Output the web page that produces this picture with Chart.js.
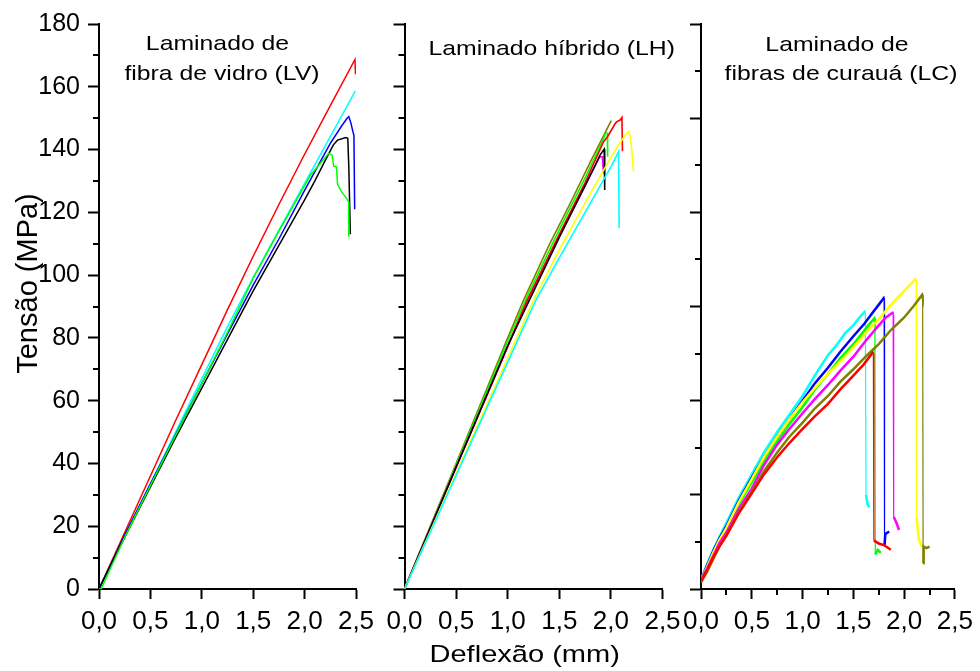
<!DOCTYPE html>
<html><head><meta charset="utf-8">
<script src="https://cdn.jsdelivr.net/npm/chart.js@4.4.1/dist/chart.umd.min.js"></script>
<style>
html,body{margin:0;padding:0;background:#fff;}
#wrap{position:relative;width:980px;height:671px;overflow:hidden;background:#fff}
canvas{position:absolute;left:0;top:0}
</style></head><body>
<div id="wrap">
<canvas id="c1" width="980" height="671"></canvas>
<canvas id="c2" width="980" height="671"></canvas>
<canvas id="c3" width="980" height="671"></canvas>
</div>
<script>
// ---------- tick labels / ranges ----------
const xTickValues = [0, 0.5, 1.0, 1.5, 2.0, 2.5];
const yTickValues = [0, 20, 40, 60, 80, 100, 120, 140, 160, 180];
const panelTitles = [["Laminado de", "fibra de vidro (LV)"], ["Laminado híbrido (LH)"], ["Laminado de", "fibras de curauá (LC)"]];
const xAxisTitle = "Deflexão (mm)";
const yAxisTitle = "Tensão (MPa)";

// ---------- Panel 1: Laminado de fibra de vidro (LV) ----------
const LV_red   = [[0,0],[0.25,18],[0.5,36],[0.75,54],[1.0,71.5],[1.25,89],[1.5,106],[1.75,122.5],[2.0,138.5],[2.25,154],[2.49,168.7],[2.495,164]];
const LV_cyan  = [[0,0],[0.25,16.5],[0.5,33.5],[0.75,50.3],[1.0,67],[1.25,83.6],[1.5,99.3],[1.75,114.3],[2.0,129.2],[2.25,144.1],[2.494,158.7]];
const LV_blue  = [[0,0],[0.25,17.2],[0.5,33.5],[0.75,49.5],[1.0,65.5],[1.25,81.3],[1.5,96.8],[1.75,111.5],[2.0,127],[2.25,142],[2.36,147.5],[2.41,149.8],[2.43,150.5],[2.45,148.5],[2.47,145.7],[2.48,144.5],[2.487,121]];
const LV_black = [[0,0],[0.25,16.5],[0.5,32.5],[0.75,48.5],[1.0,64],[1.25,79.5],[1.5,95],[1.75,109.5],[2.0,124],[2.1,130],[2.2,136.5],[2.28,141.5],[2.32,143],[2.4,143.8],[2.42,143.6],[2.43,134.5],[2.445,113]];
const LV_green = [[0,0],[0.02,0],[0.25,16.5],[0.5,33],[0.75,49.3],[1.0,65.5],[1.25,81.8],[1.5,99],[1.75,114],[2.0,128.5],[2.06,132],[2.15,135.5],[2.234,138.8],[2.267,138.3],[2.283,134.7],[2.31,134.5],[2.32,129],[2.36,126.5],[2.396,125],[2.428,123.4],[2.43,112.2]];

// ---------- Panel 2: Laminado híbrido (LH) ----------
const LH_olive   = [[0,0],[0.5,40],[1.0,80],[1.153,92],[1.4,109.5],[1.6,122.5],[1.8,136],[2.003,149.2]];
const LH_green   = [[0,0],[0.5,39.5],[1.0,79],[1.2,94],[1.5,114.5],[1.75,131],[1.93,143.5],[1.946,145.2],[1.966,145.2],[1.968,137.7]];
const LH_black   = [[0,0],[0.5,38.8],[1.0,77.5],[1.5,112],[1.75,128.5],[1.848,135],[1.896,138.3],[1.935,140.1],[1.94,127.1]];
const LH_magenta = [[0,0],[0.5,38.8],[1.0,77.2],[1.186,91.5],[1.5,112.5],[1.75,128.5],[1.89,137.7],[1.918,137.7],[1.93,132.4]];
const LH_red     = [[0,0],[0.5,38.8],[1.0,77.3],[1.186,91.8],[1.5,113],[1.75,129.5],[1.928,142.4],[1.967,144.1],[2.042,148.3],[2.058,148.9],[2.09,149.4],[2.107,150.2],[2.112,139.5]];
const LH_yellow  = [[0,0],[0.5,36.8],[1.0,73.6],[1.25,92],[1.5,108],[1.75,123],[2.0,137.5],[2.074,141.5],[2.15,145],[2.171,145.7],[2.185,144.5],[2.204,139.3],[2.219,133]];
const LH_cyan    = [[0,0],[0.5,36.2],[1.0,72.3],[1.273,92],[1.5,105.5],[1.75,120],[2.0,134.5],[2.074,139.3],[2.08,115]];

// ---------- Panel 3: Laminado de fibras de curauá (LC) ----------
const LC_cyan    = [[0,3],[0.06,8],[0.12,12.4],[0.18,16.5],[0.25,21],[0.37,29],[0.5,36.5],[0.62,43.5],[0.75,50],[0.87,55.5],[1.0,61.5],[1.12,68],[1.25,74.5],[1.33,77.5],[1.42,81.5],[1.5,84],[1.56,86.5],[1.61,88.3],[1.618,88],[1.625,30],[1.64,27],[1.659,26]];
const LC_blue    = [[0,3],[0.06,7.5],[0.12,12],[0.18,16],[0.25,20],[0.37,28],[0.5,35.5],[0.62,42],[0.75,48.5],[0.87,54],[1.0,60],[1.12,65.5],[1.25,70.5],[1.37,75.5],[1.5,80.5],[1.61,84.6],[1.7,88.5],[1.76,91],[1.798,92.6],[1.803,92],[1.807,14],[1.815,17.5],[1.853,18.3]];
const LC_green   = [[0,3],[0.06,7],[0.12,11.5],[0.18,15.5],[0.25,19],[0.37,27],[0.5,34],[0.62,40.5],[0.75,47],[0.87,52.5],[1.0,58],[1.12,63.5],[1.25,68.5],[1.37,73.5],[1.5,78],[1.6,82],[1.66,84.5],[1.707,86.2],[1.712,85.5],[1.716,11],[1.74,12.5],[1.77,11.5]];
const LC_yellow  = [[0,3],[0.06,7],[0.12,11.5],[0.18,15.5],[0.25,19.5],[0.37,27.5],[0.5,35],[0.62,42],[0.75,48.5],[0.87,54],[1.0,59.5],[1.12,64],[1.25,68.5],[1.37,72.5],[1.5,77],[1.62,81.5],[1.75,86],[1.87,90.5],[2.0,95],[2.06,97],[2.112,98.7],[2.118,98.5],[2.122,23],[2.145,15.6],[2.177,13.5]];
const LC_magenta = [[0,3],[0.06,6.5],[0.12,10.5],[0.18,14.5],[0.25,18],[0.37,25.5],[0.5,32],[0.62,39.5],[0.75,46],[0.87,51],[1.0,56],[1.12,60.5],[1.25,65],[1.37,69.5],[1.5,74],[1.62,79],[1.75,84],[1.82,86.5],[1.885,88],[1.892,87.5],[1.897,23],[1.925,21],[1.95,18.8]];
const LC_olive   = [[0,2],[0.06,5.5],[0.12,9.5],[0.18,13.5],[0.25,17],[0.37,24.5],[0.5,31],[0.62,37.5],[0.75,43.5],[0.87,48.5],[1.0,53],[1.12,57.5],[1.25,61.5],[1.37,66],[1.5,70],[1.62,74],[1.75,78],[1.87,82.5],[2.0,86.5],[2.09,90],[2.177,93.7],[2.182,93],[2.187,8.2],[2.192,13.5],[2.22,13],[2.25,13.5]];
const LC_red     = [[0,2.5],[0.06,6],[0.12,10],[0.18,13.5],[0.25,17],[0.37,24],[0.5,30.5],[0.62,36.5],[0.75,42],[0.87,46.5],[1.0,51],[1.12,55],[1.25,59],[1.37,63.5],[1.5,68],[1.6,71.5],[1.69,75.3],[1.697,75],[1.702,15.5],[1.75,14.5],[1.8,14],[1.869,12.5]];

const FONT = "'Liberation Sans', Arial, Helvetica, sans-serif";
const W = 980, H = 671;
const Y_BOX = 70, X_BOX = 50;   // space reserved for tick labels

const toXY = pts => pts.map(p => ({x: p[0], y: p[1]}));
function ds(pts, color, width, thinDrops) {
  const d = {data: toXY(pts), borderColor: color, borderWidth: width, pointRadius: 0, fill: false, tension: 0};
  if (thinDrops) d.segment = {borderWidth: c => (c.p0.parsed.y - c.p1.parsed.y > 20 ? 1.2 : width)};
  return d;
}

const minorTicksPlugin = {
  id: 'minorTicks',
  afterDraw(chart, args, opts) {
    const ctx = chart.ctx;
    ctx.save();
    ctx.strokeStyle = '#000';
    ctx.lineWidth = 2;
    for (const m of (opts.list || [])) {
      const sc = chart.scales[m.axis];
      const n = Math.round((sc.max - sc.min) / m.step);
      for (let i = 0; i <= n; i++) {
        const v = sc.min + i * m.step;
        const r = v / m.major;
        if (Math.abs(r - Math.round(r)) < 1e-6) continue;
        const p = Math.round(sc.getPixelForValue(v));
        ctx.beginPath();
        if (m.axis === 'x') { ctx.moveTo(p, sc.top); ctx.lineTo(p, sc.top + m.len); }
        else { ctx.moveTo(sc.right, p); ctx.lineTo(sc.right - m.len, p); }
        ctx.stroke();
      }
    }
    ctx.restore();
  }
};

const textsPlugin = {
  id: 'texts',
  afterDraw(chart, args, opts) {
    const ctx = chart.ctx;
    for (const t of (opts.items || [])) {
      ctx.save();
      ctx.fillStyle = '#000';
      ctx.font = t.size + 'px ' + FONT;
      ctx.textAlign = 'center';
      ctx.textBaseline = 'alphabetic';
      ctx.translate(t.x, t.y);
      if (t.rot) ctx.rotate(t.rot);
      ctx.scale(t.sx || 1, 1);
      ctx.fillText(t.text, 0, 0);
      ctx.restore();
    }
  }
};

function makeChart(id, datasets, o) {
  const yBox = o.yLabels ? Y_BOX : 0;
  return new Chart(document.getElementById(id), {
    type: 'line',
    data: {datasets},
    options: {
      responsive: false, animation: false, devicePixelRatio: 1,
      events: [],
      layout: {padding: {left: o.left - yBox, right: W - o.right, top: 24, bottom: H - 589 - X_BOX}},
      plugins: {
        legend: {display: false}, tooltip: {enabled: false},
        minorTicks: {list: o.minor}, texts: {items: o.texts}
      },
      scales: {
        x: {
          type: 'linear', min: 0, max: 2.5,
          afterFit(s) { s.height = X_BOX; },
          border: {display: true, color: '#000', width: 2},
          grid: {drawOnChartArea: false, drawTicks: true, tickLength: 10, tickWidth: 2, tickColor: '#000'},
          afterBuildTicks(s) { s.ticks = xTickValues.map(v => ({value: v})); },
          ticks: {autoSkip: false, maxRotation: 0, minRotation: 0, padding: 7, color: '#000',
                  font: {family: FONT, size: 26},
                  callback: v => Number(v).toFixed(1).replace('.', ',')}
        },
        y: {
          type: 'linear', min: 0, max: 180,
          afterFit(s) { s.width = yBox; },
          border: {display: true, color: '#000', width: 2},
          grid: {drawOnChartArea: false, drawTicks: true, tickLength: 11, tickWidth: 2, tickColor: '#000'},
          afterBuildTicks(s) { s.ticks = o.yMajor.map(v => ({value: v})); },
          ticks: {display: o.yLabels, padding: 8, color: '#000', font: {family: FONT, size: 25},
                  callback: v => String(v)}
        }
      }
    },
    plugins: [minorTicksPlugin, textsPlugin]
  });
}

// Panel 1
makeChart('c1', [
  ds(LV_green, '#00ff00', 1.5),
  ds(LV_black, '#000000', 1.5),
  ds(LV_blue, '#0000ff', 1.5),
  ds(LV_cyan, '#00ffff', 1.5),
  ds(LV_red, '#ff0000', 1.5)
], {
  left: 99, right: 356, yLabels: true, yMajor: yTickValues,
  minor: [{axis: 'y', step: 10, major: 20, len: 6}],
  texts: [
    {text: panelTitles[0][0], x: 217.5, y: 50, size: 21, sx: 1.18},
    {text: panelTitles[0][1], x: 222, y: 80, size: 21, sx: 1.18},
    {text: yAxisTitle, x: 36.7, y: 283.5, size: 29, rot: -Math.PI / 2},
    {text: xAxisTitle, x: 524.7, y: 662, size: 24, sx: 1.21}
  ]
});

// Panel 2
makeChart('c2', [
  ds(LH_cyan, '#00ffff', 1.6),
  ds(LH_yellow, '#ffff00', 1.6),
  ds(LH_black, '#000000', 1.6),
  ds(LH_red, '#ff0000', 1.6),
  ds(LH_magenta, '#ff00ff', 1.8),
  ds(LH_green, '#00ff00', 1.6),
  ds(LH_olive, '#808000', 1.6)
], {
  left: 404.5, right: 662.5, yLabels: false, yMajor: yTickValues,
  minor: [{axis: 'y', step: 10, major: 20, len: 6}],
  texts: [
    {text: panelTitles[1][0], x: 551.7, y: 55, size: 21, sx: 1.18}
  ]
});

// Panel 3
makeChart('c3', [
  ds(LC_red, '#ff0000', 2.5, true),
  ds(LC_olive, '#808000', 2.5, true),
  ds(LC_magenta, '#ff00ff', 2.5, true),
  ds(LC_yellow, '#ffff00', 2.5, true),
  ds(LC_green, '#00ff00', 2.5, true),
  ds(LC_blue, '#0000ff', 2.5, true),
  ds(LC_cyan, '#00ffff', 2.5, true)
], {
  left: 701, right: 958.5, yLabels: false, yMajor: [0, 30, 60, 90, 120, 150, 180],
  minor: [{axis: 'y', step: 15, major: 30, len: 6}, {axis: 'x', step: 0.25, major: 0.5, len: 6}],
  texts: [
    {text: panelTitles[2][0], x: 837, y: 50.5, size: 21, sx: 1.18},
    {text: panelTitles[2][1], x: 841, y: 80, size: 21, sx: 1.18}
  ]
});
</script>
</body></html>
